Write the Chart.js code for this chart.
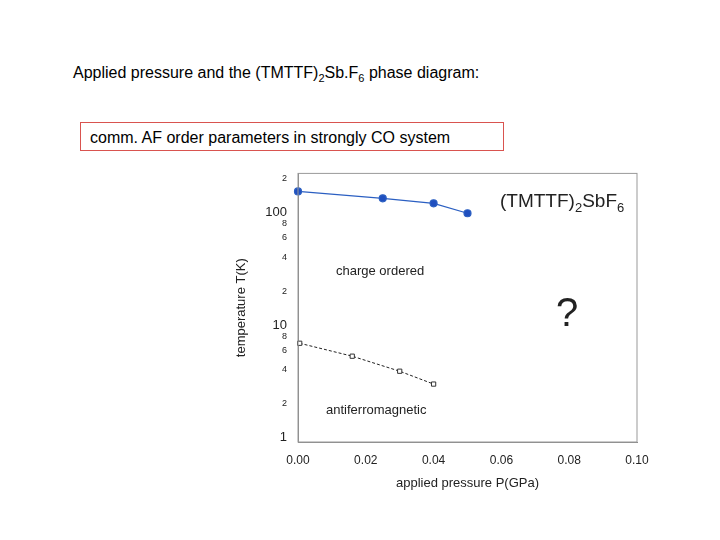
<!DOCTYPE html>
<html>
<head>
<meta charset="utf-8">
<script src="https://cdn.jsdelivr.net/npm/chart.js@4"></script>
<style>
  body { margin: 0; width: 720px; height: 540px; background: #fff; font-family: "Liberation Sans", Arial, sans-serif; position: relative; overflow: hidden; }
  .abs { position: absolute; white-space: nowrap; }
  #title { left: 73px; top: 64px; font-size: 16px; color: #000; }
  #box { left: 80px; top: 122px; width: 424px; height: 29px; border: 1px solid #d9534f; font-size: 16px; line-height: 29px; padding-left: 9px; box-sizing: border-box; }
  #wrap { left: 230px; top: 165px; width: 430px; height: 330px; }
  .lbl { font-family: Arial, "Liberation Sans", sans-serif; color: #222; }
</style>
</head>
<body>
<div id="title" class="abs">Applied pressure and the (TMTTF)<sub style="font-size:11px">2</sub>Sb.F<sub style="font-size:11px">6</sub> phase diagram:</div>
<div id="box" class="abs">comm. AF order parameters in strongly CO system</div>
<div id="wrap" class="abs"><canvas id="chart"></canvas></div>
<div class="abs lbl" style="left:500px;top:190px;font-size:19px;">(TMTTF)<sub style="font-size:13px">2</sub>SbF<sub style="font-size:13px">6</sub></div>
<div class="abs lbl" style="left:336px;top:263px;font-size:13px;">charge ordered</div>
<div class="abs lbl" style="left:556px;top:290px;font-size:40px;">?</div>
<div class="abs lbl" style="left:326px;top:402px;font-size:13px;">antiferromagnetic</div>
<script>
const coPressure = [0, 0.025, 0.04, 0.05];
const coTemp = [153, 133, 120, 98];
const afPressure = [0.0005, 0.016, 0.03, 0.04];
const afTemp = [6.9, 5.3, 3.9, 3.0];
const xTicks = [0, 0.02, 0.04, 0.06, 0.08, 0.1];
const yTicks = [1, 2, 4, 6, 8, 10, 20, 40, 60, 80, 100, 200];

const toXY = (xs, ys) => xs.map((x, i) => ({ x: x, y: ys[i] }));

new Chart(document.getElementById('chart'), {
  type: 'scatter',
  data: {
    datasets: [{
      data: toXY(coPressure, coTemp),
      showLine: true,
      borderColor: '#2b5fc2',
      backgroundColor: '#1f4fbf',
      borderWidth: 1.2,
      pointRadius: 3.5
    }, {
      data: toXY(afPressure, afTemp),
      showLine: true,
      borderColor: '#222',
      backgroundColor: '#fff',
      borderDash: [3, 2],
      borderWidth: 1,
      pointStyle: 'rect',
      pointRadius: 3,
      pointBorderColor: '#333'
    }]
  },
  options: {
    responsive: true,
    maintainAspectRatio: false,
    animation: false,
    clip: false,
    layout: { padding: { top: 7, right: 23 } },
    plugins: { legend: { display: false }, tooltip: { enabled: false } },
    scales: {
      x: {
        type: 'linear', min: 0, max: 0.1,
        afterBuildTicks: a => { a.ticks = xTicks.map(v => ({ value: v })); },
        afterFit: a => { a.height = 53; },
        ticks: { callback: v => v.toFixed(2), color: '#222', font: { size: 12 } },
        grid: { display: false },
        border: { color: '#888' },
        title: { display: true, text: 'applied pressure P(GPa)', color: '#222', font: { size: 13 } }
      },
      y: {
        type: 'logarithmic', min: 0.92, max: 221,
        afterBuildTicks: a => { a.ticks = yTicks.map(v => ({ value: v })); },
        afterFit: a => { a.width = 68; },
        ticks: {
          color: '#222',
          callback: v => (v === 1 || v === 10 || v === 100) ? String(v) : String(v).charAt(0),
          font: ctx => ({ size: [1, 10, 100].includes(ctx.tick && ctx.tick.value) ? 13 : 9 })
        },
        grid: { display: false },
        border: { color: '#888' },
        title: { display: true, text: 'temperature T(K)', color: '#222', font: { size: 13 } }
      }
    }
  },
  plugins: [{
    id: 'frame',
    afterDraw(c) {
      const a = c.chartArea, g = c.ctx;
      g.save(); g.strokeStyle = '#999'; g.lineWidth = 1;
      g.strokeRect(a.left, a.top, a.right - a.left, a.bottom - a.top);
      g.restore();
    }
  }]
});
</script>
</body>
</html>
